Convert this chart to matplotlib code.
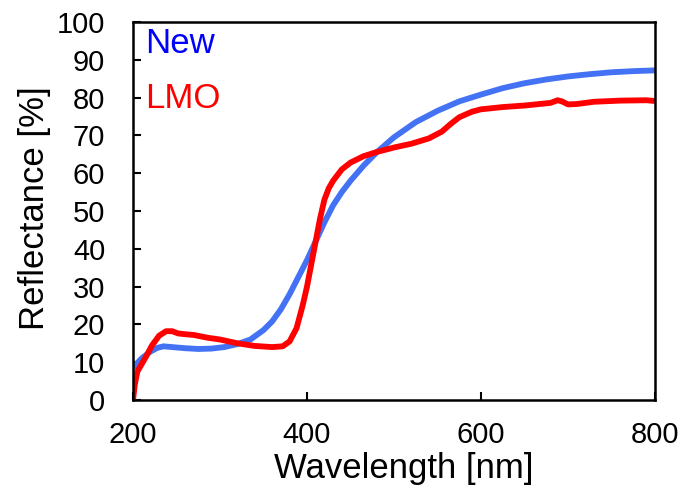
import matplotlib
matplotlib.use("Agg")
import matplotlib.pyplot as plt
import numpy as np

plt.rcParams['font.family'] = ['Liberation Sans', 'DejaVu Sans']

new_wl = [200, 205, 210, 220, 228, 235, 245, 260, 275, 290, 305, 320, 335, 350, 360, 370, 380, 390, 400, 410, 420, 430, 440, 450, 465, 480, 500, 525, 550, 575, 600, 625, 650, 675, 700, 725, 750, 775, 800]
new_r = [8.5, 9.8, 11.0, 12.8, 13.8, 14.2, 14.0, 13.7, 13.5, 13.6, 14.0, 14.8, 16.0, 18.5, 20.8, 24.0, 28.0, 32.5, 37.0, 42.0, 47.0, 51.5, 55.0, 58.0, 62.0, 65.5, 69.5, 73.5, 76.5, 79.0, 80.8, 82.5, 83.8, 84.8, 85.6, 86.2, 86.7, 87.0, 87.2]

lmo_wl = [200, 202, 205, 210, 215, 222, 230, 238, 245, 252, 260, 270, 285, 300, 320, 340, 360, 372, 380, 388, 395, 400, 405, 410, 415, 420, 425, 430, 440, 450, 465, 480, 500, 520, 540, 555, 565, 575, 590, 600, 625, 650, 680, 688, 693, 700, 710, 730, 760, 790, 800]
lmo_r = [0.0, 4.0, 7.5, 9.5, 11.5, 14.5, 17.0, 18.2, 18.2, 17.6, 17.4, 17.2, 16.5, 16.0, 15.0, 14.3, 14.0, 14.2, 15.5, 19.0, 25.0, 30.0, 36.0, 42.0, 48.0, 53.0, 56.0, 58.0, 61.0, 62.8, 64.5, 65.6, 66.8, 67.8, 69.2, 71.0, 73.0, 74.8, 76.3, 76.9, 77.5, 77.9, 78.6, 79.3, 79.0, 78.2, 78.3, 78.9, 79.2, 79.3, 79.1]

x_ticks = [200, 400, 600, 800]
y_ticks = list(range(0, 101, 10))

fig = plt.figure(figsize=(6.83, 4.92), dpi=100)
ax = fig.add_axes([133/683, 1 - 400/492, (655-133)/683, (400-22)/492])

ax.plot(new_wl, new_r, color='#4472F4', lw=4.2, solid_capstyle='butt')
ax.plot(lmo_wl, lmo_r, color='#FF0000', lw=4.2, solid_capstyle='butt')

ax.set_xlim(200, 800)
ax.set_ylim(0, 100)
ax.set_xticks(x_ticks)
ax.set_yticks(y_ticks)
ax.tick_params(direction='in', length=6, width=1.5, labelsize=21)
ax.tick_params(axis='y', pad=20)
ax.tick_params(axis='x', pad=15)
ax.tick_params(axis='x', top=False)
ax.tick_params(axis='y', right=False)
for s in ax.spines.values():
    s.set_linewidth(1.8)

ax.set_xlabel('Wavelength [nm]', fontsize=25)
ax.set_ylabel('Reflectance [%]', fontsize=25)
ax.xaxis.set_label_coords(0.518, -0.138)
ax.yaxis.set_label_coords(-0.158, 0.508)

ax.text(0.023, 0.918, 'New', color='#0000FF', fontsize=25, transform=ax.transAxes, va='baseline', ha='left')
ax.text(0.023, 0.772, 'LMO', color='#FF0000', fontsize=25, transform=ax.transAxes, va='baseline', ha='left')

fig.savefig('out.png', dpi=100)
